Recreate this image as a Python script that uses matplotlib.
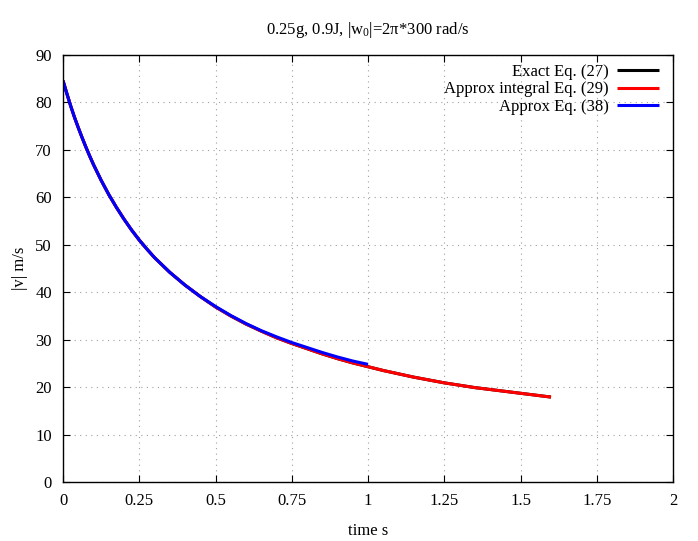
import matplotlib
matplotlib.use("Agg")
import matplotlib.pyplot as plt

plt.rcParams['font.family'] = ['Liberation Serif', 'DejaVu Serif']
plt.rcParams['mathtext.fontset'] = 'custom'
plt.rcParams['mathtext.rm'] = 'Liberation Serif'
plt.rcParams['mathtext.it'] = 'Liberation Serif:italic'

# time (s) and |v| (m/s)
t_red = [0.0, 0.0125, 0.025, 0.0375, 0.05, 0.0625, 0.075, 0.0875, 0.1, 0.125, 0.15,
         0.175, 0.2, 0.225, 0.25, 0.275, 0.3, 0.35, 0.4, 0.45, 0.5, 0.55, 0.6,
         0.65, 0.7, 0.75, 0.8, 0.85, 0.9, 0.95, 1.0, 1.05, 1.1, 1.15, 1.2, 1.25,
         1.3, 1.35, 1.4, 1.45, 1.5, 1.55, 1.6]
v_exact = [84.6, 81.9, 79.3, 76.9, 74.7, 72.6, 70.6, 68.7, 66.9, 63.6, 60.6,
           57.9, 55.4, 53.1, 51.0, 49.1, 47.3, 44.2, 41.5, 39.1, 36.9, 35.0, 33.3,
           31.8, 30.4, 29.2, 28.1, 27.0, 26.0, 25.1, 24.3, 23.5, 22.8, 22.1, 21.5, 20.9,
           20.4, 19.9, 19.5, 19.1, 18.7, 18.3, 17.9]
v_integral = list(v_exact)
t_blue = [0.0, 0.0125, 0.025, 0.0375, 0.05, 0.0625, 0.075, 0.0875, 0.1, 0.125, 0.15,
          0.175, 0.2, 0.225, 0.25, 0.275, 0.3, 0.35, 0.4, 0.45, 0.5, 0.55, 0.6,
          0.65, 0.7, 0.75, 0.8, 0.85, 0.9, 0.95, 1.0]
v_approx = [84.6, 81.9, 79.3, 76.9, 74.7, 72.6, 70.6, 68.7, 66.9, 63.6, 60.6,
            57.9, 55.4, 53.1, 51.0, 49.1, 47.3, 44.2, 41.5, 39.1, 37.0, 35.1, 33.4,
            31.9, 30.6, 29.4, 28.35, 27.3, 26.35, 25.5, 24.8]

fig = plt.figure(figsize=(6.98, 5.41), dpi=100)
ax = fig.add_axes([63/698, 1-482/541, (673-63)/698, (482-55)/541])

lw = 2.2
ax.plot(t_red, v_exact, color='black', lw=lw, label='Exact Eq. (27)', solid_capstyle='butt')
ax.plot(t_red, v_integral, color='red', lw=lw, label='Approx integral Eq. (29)', solid_capstyle='butt')
ax.plot(t_blue, v_approx, color='blue', lw=lw, label='Approx Eq. (38)', solid_capstyle='butt')

ax.set_xlim(0, 2)
ax.set_ylim(0, 90)
ax.set_xticks([0, 0.25, 0.5, 0.75, 1, 1.25, 1.5, 1.75, 2])
ax.set_xticklabels(['0', '0.25', '0.5', '0.75', '1', '1.25', '1.5', '1.75', '2'])
ax.set_yticks(range(0, 91, 10))
ax.tick_params(direction='in', length=5, width=0.8, top=True, right=True,
               labelsize=12, pad=8, colors='black')
ax.grid(True, color='#a0a0a0', linestyle=(0, (1, 4)), linewidth=0.8)
for s in ax.spines.values():
    s.set_linewidth(1.0)

ax.set_xlabel('time s', fontsize=12, labelpad=10)
ax.set_ylabel('|v| m/s', fontsize=12, labelpad=5)
ax.set_title(r'0.25g, 0.9J, |w$_0$|=2π*300 rad/s', fontsize=12, pad=15)

leg = ax.legend(loc='upper right', frameon=False, markerfirst=False, fontsize=12,
                handlelength=2.5, handletextpad=0.5, labelspacing=0.1,
                borderaxespad=0.0, bbox_to_anchor=(0.988, 0.995))

fig.savefig('out.png', dpi=100)
